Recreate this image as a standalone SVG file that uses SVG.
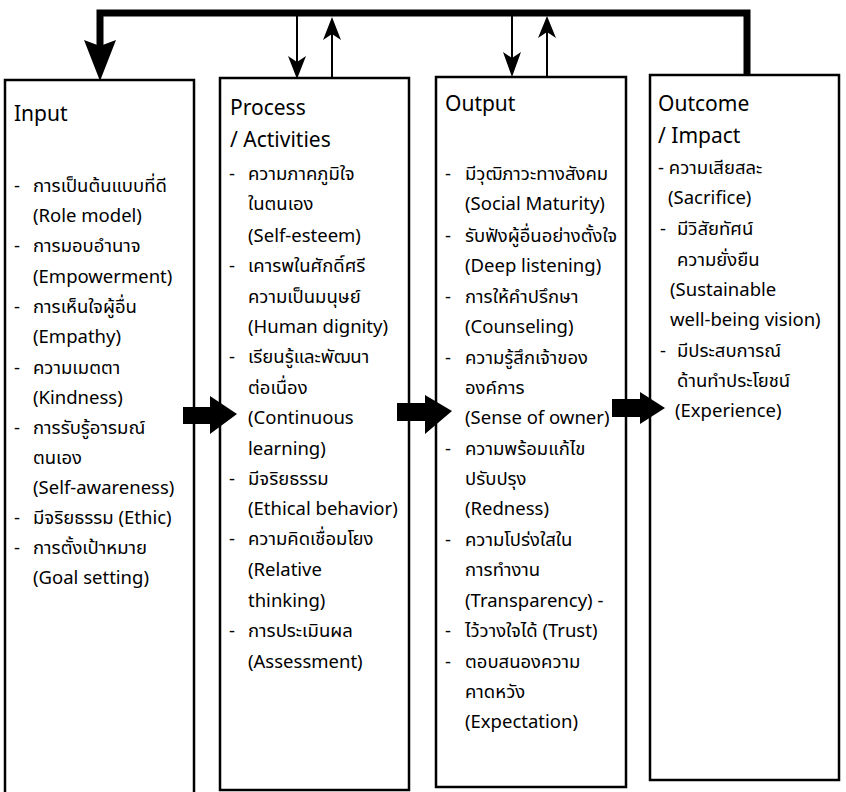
<svg xmlns="http://www.w3.org/2000/svg" width="846" height="792" viewBox="0 0 846 792">
<style>
.box{fill:#fff;stroke:#000;stroke-width:2.5}
.t{font-family:"Noto Sans","Noto Sans Thai","Open Sans",sans-serif;font-size:18.5px;fill:#000}
.h{font-family:"Noto Sans","Open Sans",sans-serif;font-size:21px;fill:#000}
.thick{fill:none;stroke:#000;stroke-width:7;stroke-linejoin:miter}
.thin{fill:none;stroke:#000;stroke-width:2}
.blk{fill:#000}
</style>
<rect width="846" height="792" fill="#fff"/>
<g id="input">
<rect class="box" x="5" y="80" width="189" height="716"/>
<text class="h" x="14" y="121">Input</text>
<text class="t" x="14" y="192">-</text><text class="t" x="33" y="192">การเป็นต้นแบบที่ดี</text>
<text class="t" x="33" y="222">(Role model)</text>
<text class="t" x="14" y="252">-</text><text class="t" x="33" y="252">การมอบอำนาจ</text>
<text class="t" x="33" y="283">(Empowerment)</text>
<text class="t" x="14" y="313">-</text><text class="t" x="33" y="313">การเห็นใจผู้อื่น</text>
<text class="t" x="33" y="343">(Empathy)</text>
<text class="t" x="14" y="374">-</text><text class="t" x="33" y="374">ความเมตตา</text>
<text class="t" x="33" y="404">(Kindness)</text>
<text class="t" x="14" y="434">-</text><text class="t" x="33" y="434">การรับรู้อารมณ์</text>
<text class="t" x="33" y="464">ตนเอง</text>
<text class="t" x="33" y="494">(Self-awareness)</text>
<text class="t" x="14" y="524">-</text><text class="t" x="33" y="524">มีจริยธรรม (Ethic)</text>
<text class="t" x="14" y="554">-</text><text class="t" x="33" y="554">การตั้งเป้าหมาย</text>
<text class="t" x="33" y="584">(Goal setting)</text>
</g>
<g id="process">
<rect class="box" x="220" y="78" width="189" height="712"/>
<text class="h" x="230" y="115">Process</text>
<text class="h" x="230" y="147">/ Activities</text>
<text class="t" x="229" y="180">-</text><text class="t" x="248" y="180">ความภาคภูมิใจ</text>
<text class="t" x="248" y="210">ในตนเอง</text>
<text class="t" x="248" y="242">(Self-esteem)</text>
<text class="t" x="229" y="272">-</text><text class="t" x="248" y="272">เคารพในศักดิ์ศรี</text>
<text class="t" x="248" y="303">ความเป็นมนุษย์</text>
<text class="t" x="248" y="333">(Human dignity)</text>
<text class="t" x="229" y="363">-</text><text class="t" x="248" y="363">เรียนรู้และพัฒนา</text>
<text class="t" x="248" y="394">ต่อเนื่อง</text>
<text class="t" x="248" y="424">(Continuous</text>
<text class="t" x="248" y="455">learning)</text>
<text class="t" x="229" y="485">-</text><text class="t" x="248" y="485">มีจริยธรรม</text>
<text class="t" x="248" y="515">(Ethical behavior)</text>
<text class="t" x="229" y="545">-</text><text class="t" x="248" y="545">ความคิดเชื่อมโยง</text>
<text class="t" x="248" y="576">(Relative</text>
<text class="t" x="248" y="607">thinking)</text>
<text class="t" x="229" y="637">-</text><text class="t" x="248" y="637">การประเมินผล</text>
<text class="t" x="248" y="668">(Assessment)</text>
</g>
<g id="output">
<rect class="box" x="436" y="77" width="190" height="710"/>
<text class="h" x="445" y="111">Output</text>
<text class="t" x="445" y="180">-</text><text class="t" x="465" y="180">มีวุฒิภาวะทางสังคม</text>
<text class="t" x="465" y="210">(Social Maturity)</text>
<text class="t" x="445" y="242">-</text><text class="t" x="465" y="242">รับฟังผู้อื่นอย่างตั้งใจ</text>
<text class="t" x="465" y="272">(Deep listening)</text>
<text class="t" x="445" y="303">-</text><text class="t" x="465" y="303">การให้คำปรึกษา</text>
<text class="t" x="465" y="333">(Counseling)</text>
<text class="t" x="445" y="364">-</text><text class="t" x="465" y="364">ความรู้สึกเจ้าของ</text>
<text class="t" x="465" y="394">องค์การ</text>
<text class="t" x="465" y="424">(Sense of owner)</text>
<text class="t" x="445" y="455">-</text><text class="t" x="465" y="455">ความพร้อมแก้ไข</text>
<text class="t" x="465" y="485">ปรับปรุง</text>
<text class="t" x="465" y="515">(Redness)</text>
<text class="t" x="445" y="546">-</text><text class="t" x="465" y="546">ความโปร่งใสใน</text>
<text class="t" x="465" y="576">การทำงาน</text>
<text class="t" x="465" y="607">(Transparency) -</text>
<text class="t" x="445" y="637">-</text><text class="t" x="465" y="637">ไว้วางใจได้ (Trust)</text>
<text class="t" x="445" y="668">-</text><text class="t" x="465" y="668">ตอบสนองความ</text>
<text class="t" x="465" y="698">คาดหวัง</text>
<text class="t" x="465" y="728">(Expectation)</text>
</g>
<g id="outcome">
<rect class="box" x="650" y="75" width="189" height="705"/>
<text class="h" x="658" y="111">Outcome</text>
<text class="h" x="658" y="143">/ Impact</text>
<text class="t" x="658" y="174">- ความเสียสละ</text>
<text class="t" x="668" y="204">(Sacrifice)</text>
<text class="t" x="660" y="235">-</text><text class="t" x="677" y="235">มีวิสัยทัศน์</text>
<text class="t" x="677" y="266">ความยั่งยืน</text>
<text class="t" x="670" y="296">(Sustainable</text>
<text class="t" x="670" y="326">well-being vision)</text>
<text class="t" x="660" y="357">-</text><text class="t" x="677" y="357">มีประสบการณ์</text>
<text class="t" x="677" y="387">ด้านทำประโยชน์</text>
<text class="t" x="675" y="417">(Experience)</text>
</g>
<g id="connectors">
<polyline class="thick" points="747,75 747,13 100,13 100,46"/>
<polygon class="blk" points="84,40 100,46 116,40 100,81"/>
<line class="thin" x1="297" y1="16" x2="297" y2="62"/>
<polygon class="blk" points="288,56 297,62 306,56 297,79"/>
<line class="thin" x1="332" y1="78" x2="332" y2="34"/>
<polygon class="blk" points="323,40 332,34 341,40 332,17"/>
<line class="thin" x1="512" y1="16" x2="512" y2="58"/>
<polygon class="blk" points="503,52 512,58 521,52 512,77"/>
<line class="thin" x1="547" y1="77" x2="547" y2="32"/>
<polygon class="blk" points="538,38 547,32 556,38 547,16"/>
<polygon class="blk" points="183,407 210,407 210,396 237,414 210,434 210,424 183,424"/>
<polygon class="blk" points="397,403 425,403 425,395 452,411 425,434 425,421 397,421"/>
<polygon class="blk" points="612,399 640,399 640,392 665,408 640,424 640,417 612,417"/>
</g>
</svg>
